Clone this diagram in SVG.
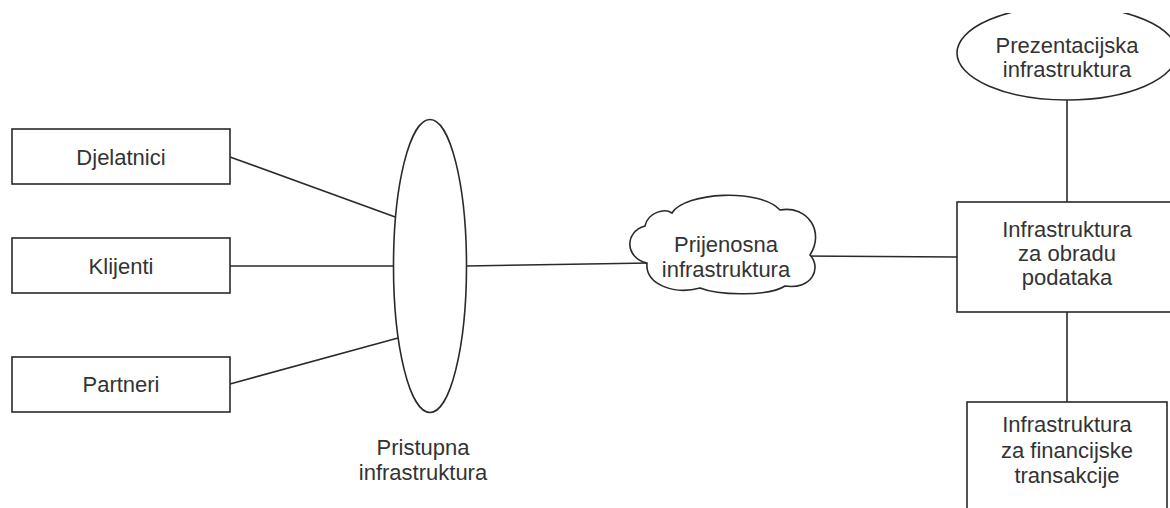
<svg xmlns="http://www.w3.org/2000/svg" width="1170" height="508" viewBox="0 0 1170 508">
<style>
.shape{fill:#ffffff;stroke:#2a2a2a;stroke-width:1.6}
.conn{fill:none;stroke:#2a2a2a;stroke-width:1.6}
text{font-family:"Liberation Sans",Arial,sans-serif;font-size:22px;fill:#333333;text-anchor:middle}
</style>
<defs>
<clipPath id="topclip"><rect x="0" y="13" width="1170" height="495"/></clipPath>
</defs>
<rect x="0" y="0" width="1170" height="508" fill="#ffffff"/>
<g id="connectors">
<line class="conn" x1="230" y1="157" x2="398" y2="218"/>
<line class="conn" x1="230" y1="266" x2="394" y2="266"/>
<line class="conn" x1="230" y1="384" x2="398" y2="338"/>
<line class="conn" x1="466" y1="266" x2="650" y2="263"/>
<line class="conn" x1="800" y1="256" x2="957" y2="257"/>
<line class="conn" x1="1067" y1="100" x2="1067" y2="202"/>
<line class="conn" x1="1067" y1="312" x2="1067" y2="402"/>
</g>
<g id="djelatnici">
<rect class="shape" x="12" y="129" width="218" height="55"/>
<text x="121" y="165">Djelatnici</text>
</g>
<g id="klijenti">
<rect class="shape" x="12" y="238" width="218" height="55"/>
<text x="121" y="274">Klijenti</text>
</g>
<g id="partneri">
<rect class="shape" x="12" y="357" width="218" height="55"/>
<text x="121" y="392">Partneri</text>
</g>
<g id="pristupna">
<ellipse class="shape" cx="430" cy="266" rx="36.5" ry="146.5"/>
<text x="423" y="455">Pristupna</text>
<text x="423" y="480">infrastruktura</text>
</g>
<g id="prijenosna">
<path class="shape" d="M647,263 C625,258 624,232 645,226 C648,212 665,208 672,213 C685,192 760,188 780,210 C808,205 825,232 810,255 C822,268 812,290 785,286 C770,296 720,296 700,288 C675,295 645,285 647,263 Z"/>
<text x="726" y="252">Prijenosna</text>
<text x="726" y="277">infrastruktura</text>
</g>
<g id="prezentacijska">
<ellipse class="shape" cx="1067" cy="53" rx="110" ry="47" clip-path="url(#topclip)"/>
<text x="1067" y="53">Prezentacijska</text>
<text x="1067" y="77">infrastruktura</text>
</g>
<g id="obrada">
<rect class="shape" x="957" y="202" width="220" height="110"/>
<text x="1067" y="237">Infrastruktura</text>
<text x="1067" y="261">za obradu</text>
<text x="1067" y="285">podataka</text>
</g>
<g id="financijske">
<rect class="shape" x="967" y="402" width="200" height="120"/>
<text x="1067" y="432">Infrastruktura</text>
<text x="1067" y="458">za financijske</text>
<text x="1067" y="483">transakcije</text>
</g>
</svg>
